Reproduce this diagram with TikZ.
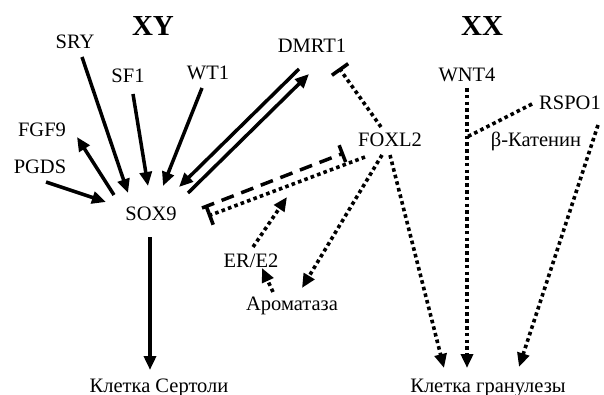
\documentclass[tikz,border=0pt]{standalone}
\usepackage{fontspec}
\setmainfont{Liberation Serif}
\usetikzlibrary{arrows.meta}
\begin{document}
\begin{tikzpicture}[x=1pt,y=-1pt,
  lbl/.style={anchor=base,inner sep=0pt,font=\fontsize{20.5}{24}\selectfont},
  head/.style={anchor=base,inner sep=0pt,font=\fontsize{29}{32}\selectfont\bfseries},
  act/.style={line width=3.5pt,-{Triangle[length=14pt,width=12pt]}},
  dotline/.style={line width=3.6pt,dash pattern=on 3.6pt off 3.2pt},
  dotact/.style={dotline,-{Triangle[length=14pt,width=12pt]}},
  dotinh/.style={dotline,-{Bar[width=20pt]}},
  dashinh/.style={line width=3.5pt,dash pattern=on 13pt off 8pt,-{Bar[width=18pt]}}]
\useasboundingbox (0,0) rectangle (604,395);

% headings
\node[head] (xy) at (153,36) {XY};
\node[head] (xx) at (482,36) {XX};

% gene and cell labels
\node[lbl] (sry)   at (75,49)   {SRY};
\node[lbl] (sf1)   at (128,83)  {SF1};
\node[lbl] (wt1)   at (208,80)  {WT1};
\node[lbl] (fgf9)  at (42,137)  {FGF9};
\node[lbl] (pgds)  at (40,174)  {PGDS};
\node[lbl] (dmrt1) at (312,53)  {DMRT1};
\node[lbl] (sox9)  at (151,221) {SOX9};
\node[lbl] (foxl2) at (390,147) {FOXL2};
\node[lbl] (ere2)  at (251,267) {ER/E2};
\node[lbl] (arom)  at (292,310) {Ароматаза};
\node[lbl] (sert)  at (159,392) {Клетка Сертоли};
\node[lbl] (wnt4)  at (467,82)  {WNT4};
\node[lbl] (rspo1) at (570,110) {RSPO1};
\node[lbl] (bcat)  at (536,147) {β-Катенин};
\node[lbl] (gran)  at (488,392) {Клетка гранулезы};

% connector end points
\coordinate (sry-o)   at (82,57);   \coordinate (sry-i)   at (128,193);
\coordinate (sf1-o)   at (133,94);  \coordinate (sf1-i)   at (148,186);
\coordinate (wt1-o)   at (202,88);  \coordinate (wt1-i)   at (163,186);
\coordinate (fgf9-o)  at (114,195); \coordinate (fgf9-i)  at (77,137);
\coordinate (pgds-o)  at (46,182);  \coordinate (pgds-i)  at (106,202);
\coordinate (dm-o)    at (299,69);  \coordinate (dm-i)    at (179,187);
\coordinate (sx-o)    at (188,193); \coordinate (sx-i)    at (309,74);
\coordinate (sert-o)  at (150,237); \coordinate (sert-i)  at (150,370);
\coordinate (sxf-o)   at (202,208); \coordinate (sxf-i)   at (344,153);
\coordinate (fsx-o)   at (365,157); \coordinate (fsx-i)   at (208,216);
\coordinate (fdm-o)   at (381,127); \coordinate (fdm-i)   at (339,68);
\coordinate (far-o)   at (382,155); \coordinate (far-i)   at (302,288);
\coordinate (er-o)    at (253,247); \coordinate (er-i)    at (287,197);
\coordinate (are-o)   at (273,292); \coordinate (are-i)   at (262,268);
\coordinate (fgr-o)   at (390,155); \coordinate (fgr-i)   at (444,368);
\coordinate (wgr-o)   at (467,88);  \coordinate (wgr-i)   at (467,368);
\coordinate (rs-o)    at (532,104); \coordinate (rs-i)    at (467,137);
\coordinate (bgr-o)   at (598,125); \coordinate (bgr-i)   at (519,367);

% XY pathway (solid)
\draw[act] (sry-o) -- (sry-i);
\draw[act] (sf1-o) -- (sf1-i);
\draw[act] (wt1-o) -- (wt1-i);
\draw[act] (fgf9-o) -- (fgf9-i);
\draw[act] (pgds-o) -- (pgds-i);
\draw[act] (dm-o) -- (dm-i);
\draw[act] (sx-o) -- (sx-i);
\draw[act] (sert-o) -- (sert-i);

% mutual repression SOX9 / FOXL2
\draw[dashinh] (sxf-o) -- (sxf-i);
\draw[dotinh] (fsx-o) -- (fsx-i);

% XX pathway (dotted)
\draw[dotinh] (fdm-o) -- (fdm-i);
\draw[dotact] (far-o) -- (far-i);
\draw[dotact] (er-o) -- (er-i);
\draw[dotact] (are-o) -- (are-i);
\draw[dotact] (fgr-o) -- (fgr-i);
\draw[dotact] (wgr-o) -- (wgr-i);
\draw[dotline] (rs-o) -- (rs-i);
\draw[dotact] (bgr-o) -- (bgr-i);
\end{tikzpicture}
\end{document}
